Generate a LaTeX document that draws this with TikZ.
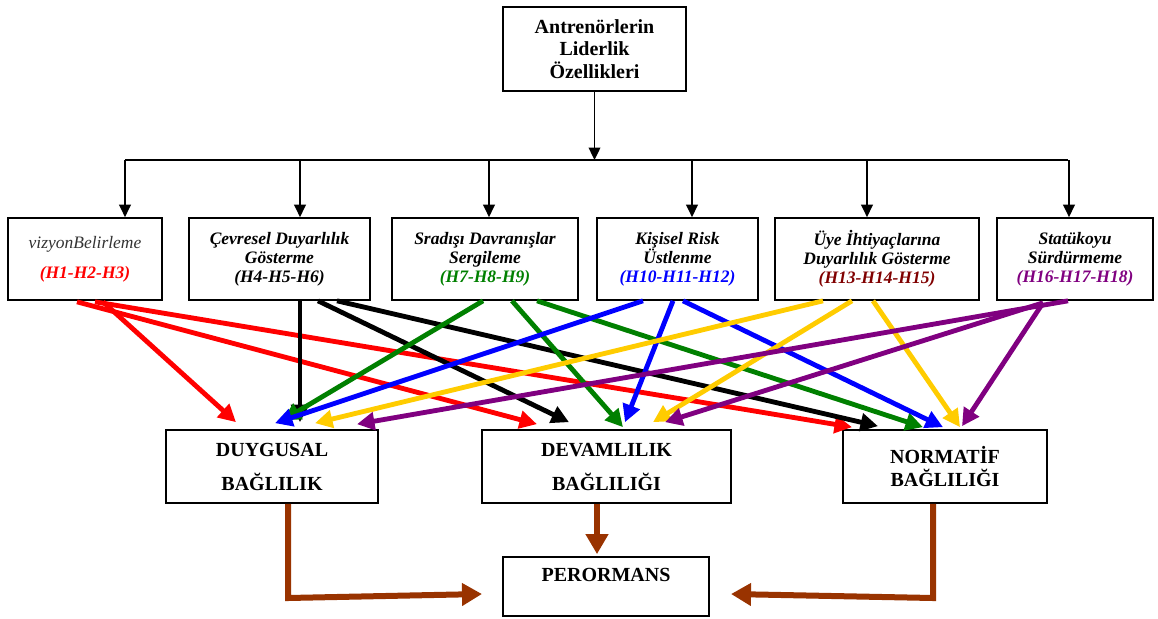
\documentclass[tikz,border=0pt]{standalone}
\usepackage{fontspec}
\setmainfont{Liberation Serif}
\usetikzlibrary{arrows.meta,calc}
\definecolor{hRed}{RGB}{255,0,0}
\definecolor{hGreen}{RGB}{0,128,0}
\definecolor{hBlue}{RGB}{0,0,255}
\definecolor{hGold}{RGB}{255,204,0}
\definecolor{hPurple}{RGB}{128,0,128}
\definecolor{hMaroon}{RGB}{128,0,0}
\definecolor{hBrown}{RGB}{153,51,0}

\begin{document}
\begin{tikzpicture}[
  x=0.6pt, y=-0.6pt,
  box/.style={draw, line width=1pt, inner sep=1pt, align=center},
  dim/.style={box, minimum height=49.2pt, font=\fontsize{10.5}{11.5}\selectfont\bfseries\itshape},
  res/.style={box, minimum height=43.8pt, font=\fontsize{12}{14}\selectfont\bfseries},
  tree/.style={line width=1.1pt},
  treearr/.style={tree, -{Triangle[length=7.5pt,width=7pt]}},
  hyp/.style={line width=2.9pt, -{Triangle[length=10.5pt,width=10.5pt]}},
  outc/.style={draw=hBrown, line width=3.6pt, line join=miter, -{Triangle[length=12pt,width=13pt]}}
]
\useasboundingbox (0,0) rectangle (1158,618);

% top of the tree
\node[box, minimum width=109.8pt, minimum height=50.4pt, font=\fontsize{12}{13.5}\selectfont\bfseries] (lead) at (594.5,49) {Antrenörlerin\\Liderlik\\Özellikleri};

% leadership dimensions
\node[dim, minimum width=92.4pt]  (vizyon)  at (85,259)    {{\mdseries\color{black!80}vizyonBelirleme}\\[6.5pt]\textcolor{hRed}{(H1-H2-H3)}};
\node[dim, minimum width=108.6pt] (cevre)   at (279.5,259) {Çevresel Duyarlılık\\Gösterme\\(H4-H5-H6)};
\node[dim, minimum width=111.6pt] (sradisi) at (485,259)   {Sradışı Davranışlar\\Sergileme\\\textcolor{hGreen}{(H7-H8-H9)}};
\node[dim, minimum width=96.6pt]  (risk)    at (677.5,259) {Kişisel Risk\\Üstlenme\\\textcolor{hBlue}{(H10-H11-H12)}};
\node[dim, minimum width=122.4pt] (uye)     at (877,259)   {Üye İhtiyaçlarına\\Duyarlılık Gösterme\\\textcolor{hMaroon}{(H13-H14-H15)}};
\node[dim, minimum width=93.6pt]  (statu)   at (1075,259)  {Statükoyu\\Sürdürmeme\\\textcolor{hPurple}{(H16-H17-H18)}};

% commitment types and outcome
\node[res, minimum width=127.2pt] (duygu) at (272,466.5)   {DUYGUSAL\\[6.4pt]BAĞLILIK};
\node[res, minimum width=149.4pt] (devam) at (606.5,466.5) {DEVAMLILIK\\[6.4pt]BAĞLILIĞI};
\node[res, minimum width=122.4pt] (norma) at (945,466.5)   {NORMATİF\\BAĞLILIĞI};
\node[res, minimum width=123.6pt, minimum height=35.4pt] (perf) at (606,586.5) {PERORMANS\\\mbox{}};

% tree connectors
\coordinate (bus)  at (594.5,160);
\coordinate (busL) at (125,160);
\coordinate (busR) at (1068,160);
\draw[treearr] (lead) -- (lead |- bus);
\draw[tree] (busL) -- (busR);
\foreach \n/\x in {vizyon/125, cevre/300, sradisi/489, risk/692, uye/867, statu/1069} {
  \path (\x,160) coordinate (top);
  \draw[treearr] (top) -- (top |- \n.north);
}

% hypotheses
\draw[hyp, hRed] ($(vizyon.south)+(18,1)$) -- ($(duygu.north)+(-36,-7)$);
\draw[hyp, hRed] ($(vizyon.south)+(-8,1)$) -- ($(devam.north)+(-69.5,-5)$);
\draw[hyp, hRed] ($(vizyon.south)+(10,1)$) -- ($(norma.north)+(-93,-2)$);

\draw[hyp, black] ($(cevre.south)+(20.5,0)$) -- ($(duygu.north)+(28,-7)$);
\draw[hyp, black] ($(cevre.south)+(38.5,0)$) -- ($(devam.north)+(-37.5,-7)$);
\draw[hyp, black] ($(cevre.south)+(57.5,0)$) -- ($(norma.north)+(-67,-3)$);

\draw[hyp, hGreen] ($(sradisi.south)+(-2,0)$) -- ($(duygu.north)+(11,-9)$);
\draw[hyp, hGreen] ($(sradisi.south)+(27,0)$) -- ($(devam.north)+(16.5,-2)$);
\draw[hyp, hGreen] ($(sradisi.south)+(52,0)$) -- ($(norma.north)+(-22,-2)$);

\draw[hyp, hBlue] ($(risk.south)+(-34.5,0)$) -- ($(duygu.north)+(3,-6)$);
\draw[hyp, hBlue] ($(risk.south)+(-4.5,0)$) -- ($(devam.north)+(18.5,-7)$);
\draw[hyp, hBlue] ($(risk.south)+(5.5,0)$) -- ($(norma.north)+(-2,-2)$);

\draw[hyp, hGold] ($(uye.south)+(-54,0)$) -- ($(duygu.north)+(43,-6)$);
\draw[hyp, hGold] ($(uye.south)+(-25,0)$) -- ($(devam.north)+(46.5,-7)$);
\draw[hyp, hGold] ($(uye.south)+(-4,0)$) -- ($(norma.north)+(15,-2)$);

\draw[hyp, hPurple] ($(statu.south)+(-7,0)$) -- ($(duygu.north)+(85,-5)$);
\draw[hyp, hPurple] ($(statu.south)+(-32,2)$) -- ($(devam.north)+(58.5,-7)$);
\draw[hyp, hPurple] ($(statu.south)+(-32,2)$) -- ($(norma.north)+(17,-3)$);

% towards performance
\coordinate (cornerL) at (288,598);
\coordinate (tipL)    at (482,594);
\coordinate (cornerR) at (933,598);
\coordinate (tipR)    at (731,594);
\draw[outc] (duygu.south -| cornerL) -- (cornerL) -- (tipL);
\draw[outc] ($(devam.south)+(-9.5,0)$) -- ($(perf.north)+(-9,-2)$);
\draw[outc] (norma.south -| cornerR) -- (cornerR) -- (tipR);
\end{tikzpicture}
\end{document}
